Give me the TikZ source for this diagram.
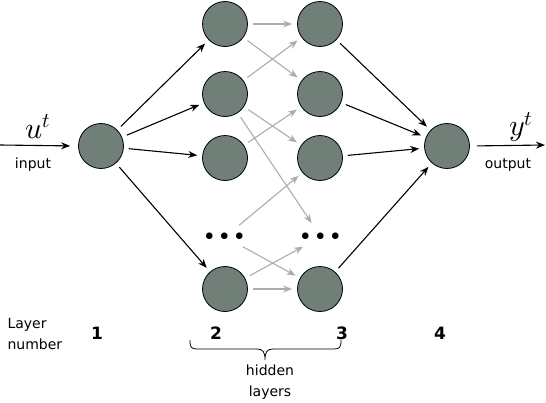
\documentclass[tikz,border=0pt]{standalone}
\usepackage{fontspec}
\usepackage{unicode-math}
\setmainfont{DejaVu Sans}
\setmathfont{Latin Modern Math}
\usetikzlibrary{arrows.meta}
\definecolor{nodefill}{RGB}{112,128,120}
\definecolor{lightarrow}{RGB}{172,172,172}
\tikzset{
  neuron/.style={circle,draw=black,line width=0.8pt,fill=nodefill,minimum size=45pt,inner sep=0pt},
  dotsnode/.style={inner sep=0pt,font=\fontsize{17}{17}\selectfont},
  blk/.style={-{Stealth[length=9pt,width=7pt]},line width=1.1pt,black,shorten <=5pt,shorten >=5pt},
  gry/.style={-{Stealth[length=9pt,width=7pt]},line width=1.1pt,lightarrow,shorten <=5pt,shorten >=5pt},
  lbl/.style={font=\fontsize{14}{21}\selectfont,align=center},
  num/.style={font=\fontsize{17}{17}\selectfont\bfseries},
  mathlbl/.style={font=\fontsize{30}{30}\selectfont}
}
\begin{document}
\begin{tikzpicture}[x=1pt,y=-1pt]
\useasboundingbox (0,0) rectangle (546,402);
% nodes
\node[neuron] (in) at (101,146) {};
\node[neuron] (a1) at (225,24) {};
\node[neuron] (a2) at (225,94) {};
\node[neuron] (a3) at (225,158) {};
\node[dotsnode] (ad) at (225,237) {$\bullet\,\bullet\,\bullet$};
\node[neuron] (a4) at (225,289) {};
\node[neuron] (b1) at (320,24) {};
\node[neuron] (b2) at (320,94) {};
\node[neuron] (b3) at (320,158) {};
\node[dotsnode] (bd) at (321,237) {$\bullet\,\bullet\,\bullet$};
\node[neuron] (b4) at (320,289) {};
\node[neuron] (out) at (447,146) {};
% input/output
\coordinate (ins) at (0,145);
\coordinate (oute) at (545,145);
\draw[-{Stealth[length=9pt,width=7pt]},line width=1.1pt,shorten >=8pt] (ins) -- (in.west);
\draw[-{Stealth[length=9pt,width=7pt]},line width=1.1pt,shorten <=7pt] (out.east) -- (oute);
\node[mathlbl] (ut) at (38,127) {$u^t$};
\node[lbl] (inl) at (33,165) {input};
\node[mathlbl] (yt) at (521,127) {$y^t$};
\node[lbl] (outl) at (508,165) {output};
% black arrows
\foreach \t in {a1,a2,a3,a4} \draw[blk] (in) -- (\t);
\foreach \s in {b1,b2,b3,b4} \draw[blk] (\s) -- (out);
% gray arrows
\draw[gry] (a1) -- (b1);
\draw[gry] (a1) -- (b2);
\draw[gry] (a2) -- (b1);
\draw[gry] (a2) -- (b3);
\draw[gry,shorten >=12pt] (a2) -- (bd);
\draw[gry] (a3) -- (b2);
\draw[gry,shorten <=12pt] (ad) -- (b3);
\draw[gry,shorten <=12pt] (ad) -- (b4);
\draw[gry,shorten >=12pt] (a4) -- (bd);
\draw[gry] (a4) -- (b4);
% labels
\node[lbl,align=left,anchor=west] (ln) at (4,334) {Layer\\number};
\node[num] (n1) at (97,333) {1};
\node[num] (n2) at (216,333) {2};
\node[num] (n3) at (342,333) {3};
\node[num] (n4) at (440,333) {4};
% brace
\draw[line width=0.8pt] (190,340) .. controls (190,347) and (191,349) .. (197,349) -- (257,349)
  .. controls (263,349) and (265,352) .. (265,360)
  .. controls (265,352) and (267,349) .. (273,349) -- (334,349)
  .. controls (340,349) and (341,347) .. (341,340);
\node[lbl] (hl) at (270,382) {hidden\\layers};
\end{tikzpicture}
\end{document}
